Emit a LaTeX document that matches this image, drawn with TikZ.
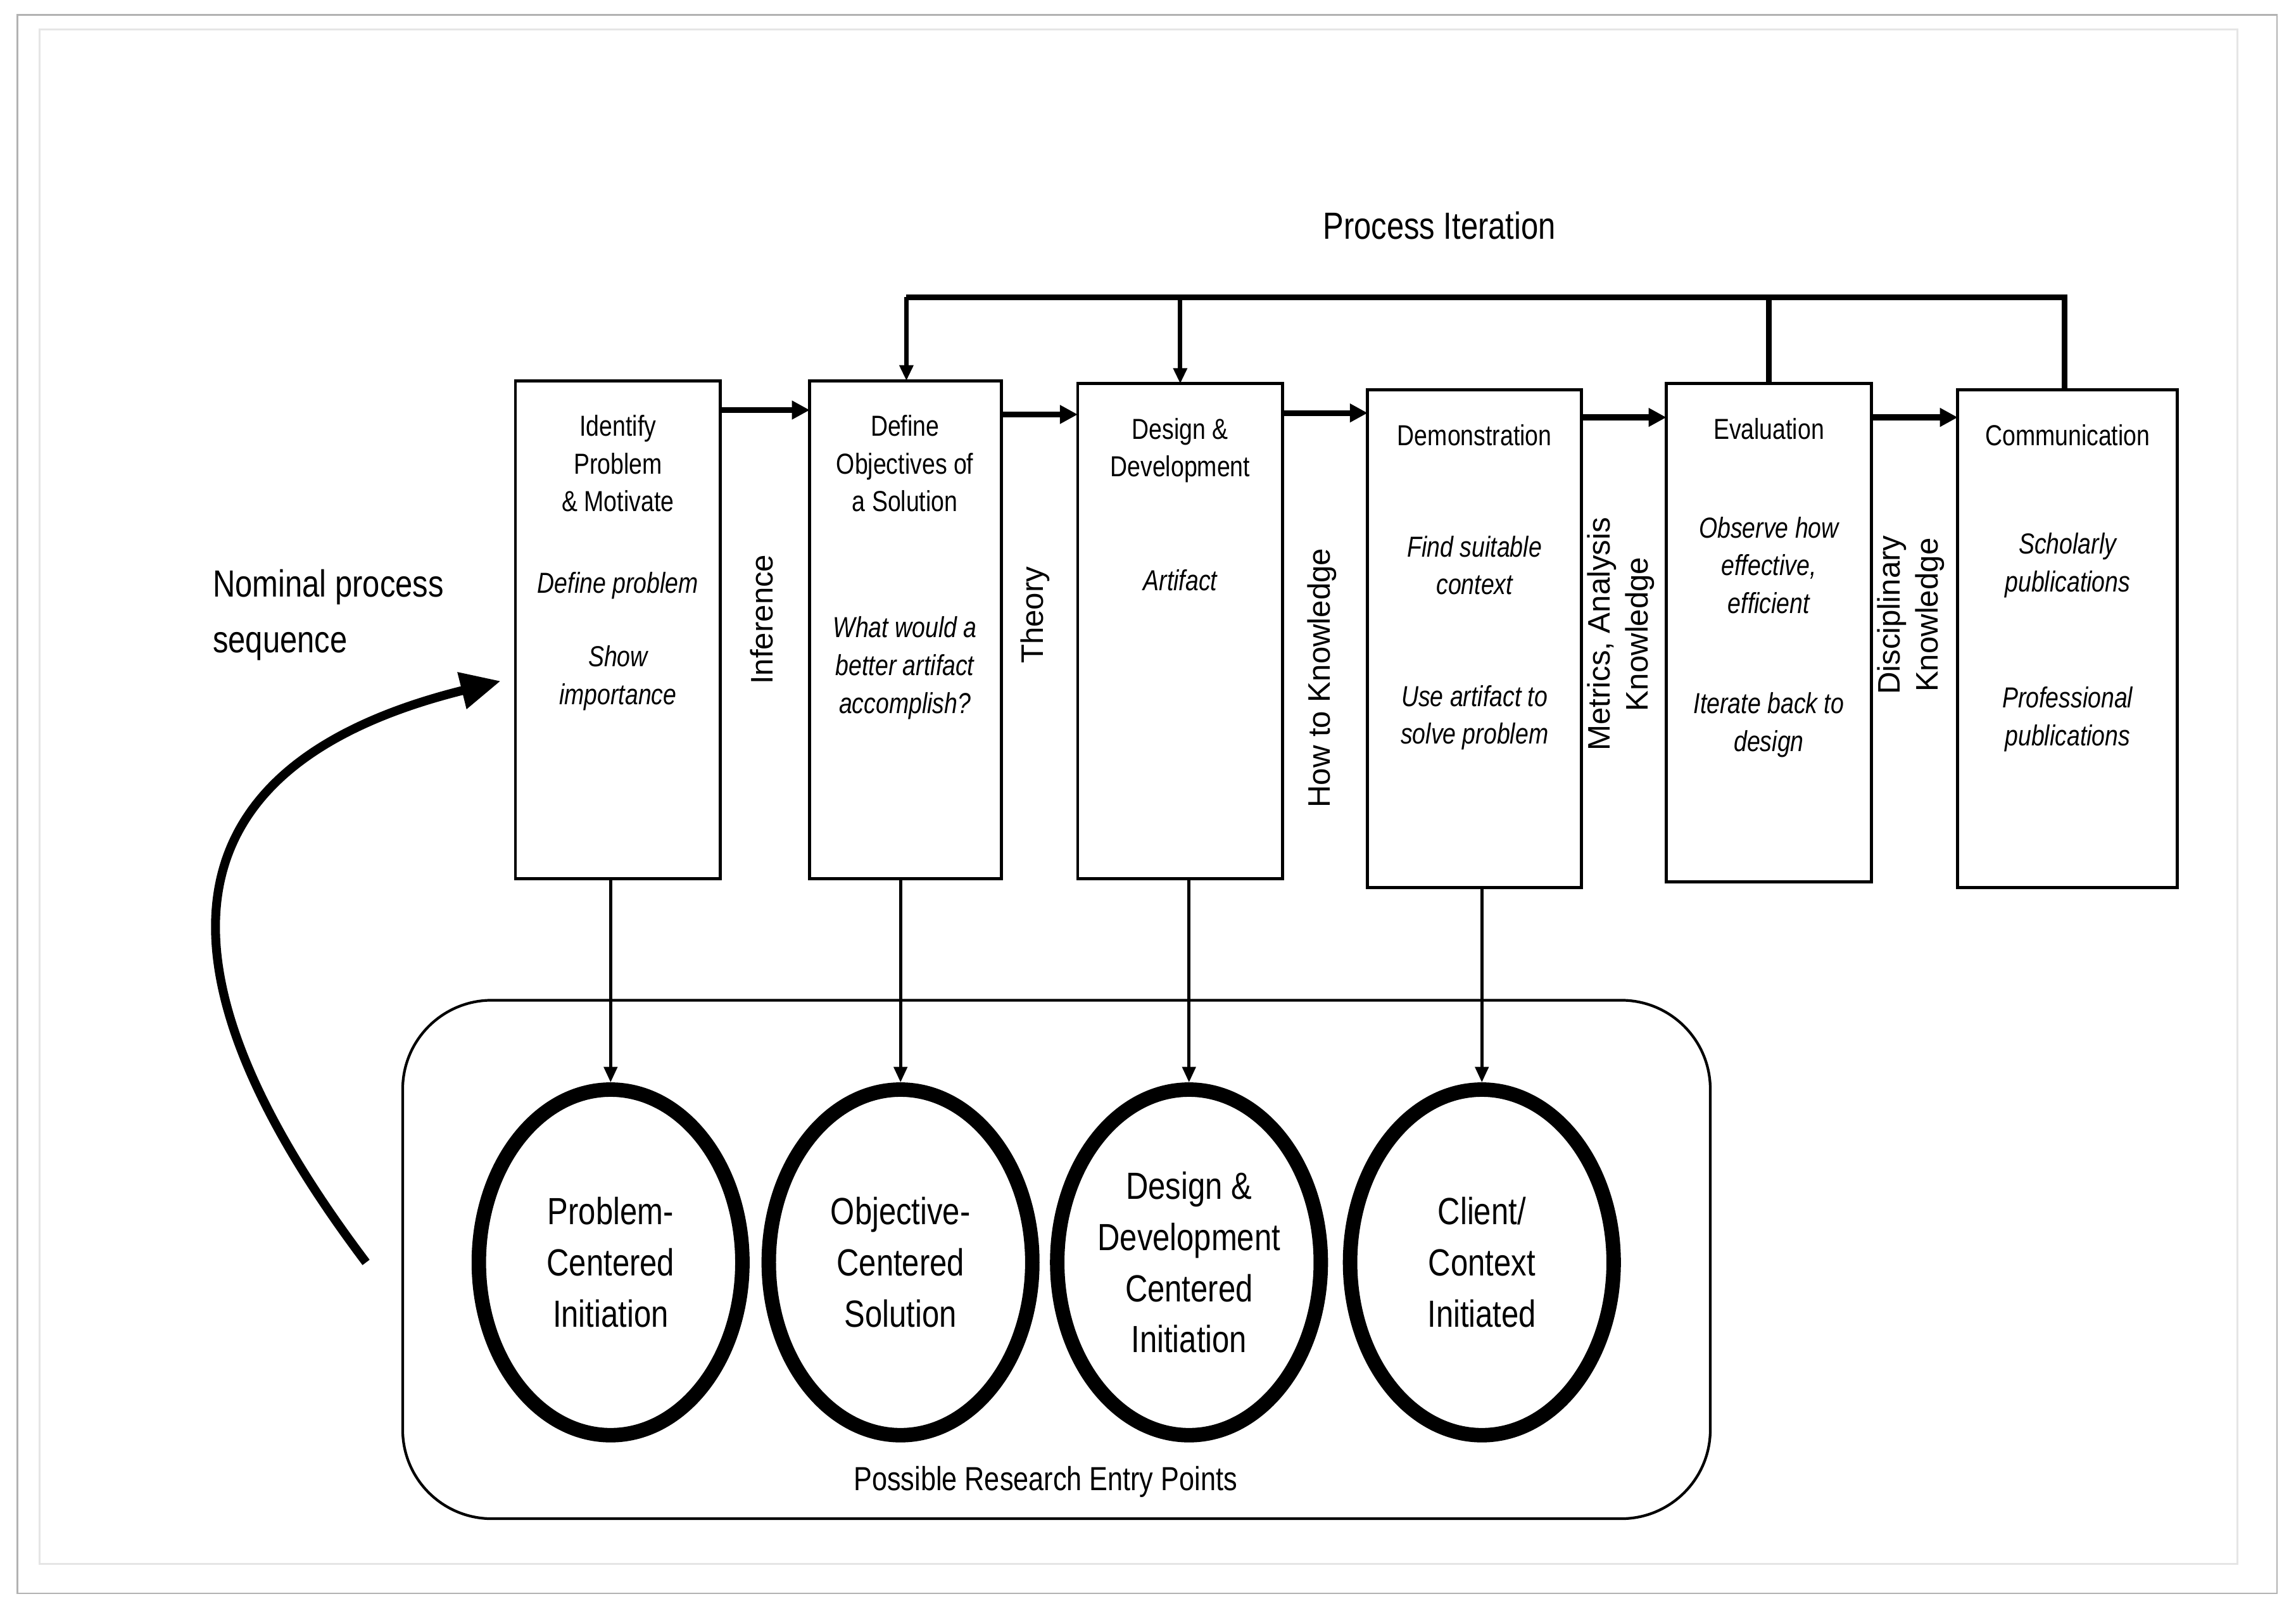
\documentclass[tikz,border=0pt]{standalone}
\usepackage{fontspec}
\setmainfont{Liberation Sans}[FakeStretch=0.82]
\usetikzlibrary{arrows.meta,shapes.geometric}
\begin{document}
\begin{tikzpicture}[x=0.02313cm,y=-0.02313cm,
 t/.style={font=\fontsize{13}{17}\selectfont,align=center},
 ti/.style={font=\fontsize{13}{17}\selectfont\itshape,align=center},
 vl/.style={font=\fontsize{14}{17}\selectfont\addfontfeature{FakeStretch=1},rotate=90,align=center},
 harr/.style={line width=2.6pt,-{Triangle[length=8pt,width=8pt]}},
 varr/.style={line width=1.4pt,-{Triangle[length=7pt,width=6pt]}},
 circ/.style={draw,ellipse,line width=6.5pt,inner sep=0,minimum width=180*0.02313cm,minimum height=236*0.02313cm,font=\fontsize{17}{23}\selectfont,align=center}]
\useasboundingbox (0,0) rectangle (1568,1101);
\draw[gray!60,line width=0.8pt] (12,10) rectangle (1555,1088);
\draw[gray!20,line width=0.8pt] (27,20) rectangle (1528,1068);
% boxes
\draw[line width=1.4pt] (352,260) rectangle (492,600);
\draw[line width=1.4pt] (553,260) rectangle (684,600);
\draw[line width=1.4pt] (736,262) rectangle (876,600);
\draw[line width=1.4pt] (934,266) rectangle (1080,606);
\draw[line width=1.4pt] (1138,262) rectangle (1278,602);
\draw[line width=1.4pt] (1337,266) rectangle (1487,606);
\node[t,anchor=north] (t1) at (422,278) {Identify\\Problem\\\& Motivate};
\node[ti] (i1) at (422,400) {Define problem};
\node[ti] (i1b) at (422,463) {Show\\importance};
\node[t,anchor=north] (t2) at (618,278) {Define\\Objectives of\\a Solution};
\node[ti] (i2) at (618,456) {What would a\\better artifact\\accomplish?};
\node[t,anchor=north] (t3) at (806,280) {Design \&\\Development};
\node[ti] (i3) at (806,396) {Artifact};
\node[t] (t4) at (1007,297) {Demonstration};
\node[ti] (i4) at (1007,386) {Find suitable\\context};
\node[ti] (i4b) at (1007,490) {Use artifact to\\solve problem};
\node[t] (t5) at (1208,293) {Evaluation};
\node[ti] (i5) at (1208,386) {Observe how\\effective,\\efficient};
\node[ti] (i5b) at (1208,495) {Iterate back to\\design};
\node[t] (t6) at (1412,297) {Communication};
\node[ti] (i6) at (1412,386) {Scholarly\\publications};
\node[ti] (i6b) at (1412,491) {Professional\\publications};
% vertical labels
\node[vl] (v1) at (520,423) {Inference};
\node[vl] (v2) at (707,420) {Theory};
\node[vl] (v3) at (903,463) {How to Knowledge};
\node[vl] (v4) at (1107,433) {Metrics, Analysis\\Knowledge};
\node[vl] (v5) at (1305,420) {Disciplinary\\Knowledge};
% horizontal arrows
\coordinate (h1a) at (492,280); \coordinate (h1b) at (553,280);
\coordinate (h2a) at (684,283); \coordinate (h2b) at (736,283);
\coordinate (h3a) at (876,282); \coordinate (h3b) at (934,282);
\coordinate (h4a) at (1080,285); \coordinate (h4b) at (1138,285);
\coordinate (h5a) at (1278,285); \coordinate (h5b) at (1337,285);
\foreach \a/\b in {h1a/h1b,h2a/h2b,h3a/h3b,h4a/h4b,h5a/h5b} \draw[harr] (\a) -- (\b);
% iteration
\node[font=\fontsize{17}{20}\selectfont] (pi) at (983,154) {Process Iteration};
\coordinate (p5) at (1208,262); \coordinate (p6) at (1410,266);
\coordinate (q2) at (619,260); \coordinate (q3) at (806,262);
\draw[line width=2.4pt] (p5) -- (1208,205);
\draw[line width=2.4pt] (p6) -- (1410,203) -- (619,203);
\draw[varr,line width=2pt] (619,203) -- (q2);
\draw[varr,line width=2pt] (806,203) -- (q3);
% entry points
\draw[line width=1.2pt,rounded corners=40] (275,683) rectangle (1168,1037);
\node[font=\fontsize{15}{18}\selectfont] (pr) at (714,1012) {Possible Research Entry Points};
\node[circ] (c1) at (417,862) {Problem-\\Centered\\Initiation};
\node[circ] (c2) at (615,862) {Objective-\\Centered\\Solution};
\node[circ] (c3) at (812,862) {Design \&\\Development\\Centered\\Initiation};
\node[circ] (c4) at (1012,862) {Client/\\Context\\Initiated};
\draw[varr] (c1.north |- 0,600) -- (c1.north);
\draw[varr] (c2.north |- 0,600) -- (c2.north);
\draw[varr] (c3.north |- 0,600) -- (c3.north);
\draw[varr] (c4.north |- 0,606) -- (c4.north);
% nominal
\node[font=\fontsize{17}{25}\selectfont,align=left,anchor=west] (nm) at (140,420) {Nominal process\\sequence};
\coordinate (s0) at (250,862); \coordinate (s1) at (342,465);
\draw[line width=4pt,-{Triangle[length=18pt,width=16pt]}] (s0) .. controls (90,650) and (120,520) .. (s1);
\end{tikzpicture}
\end{document}
